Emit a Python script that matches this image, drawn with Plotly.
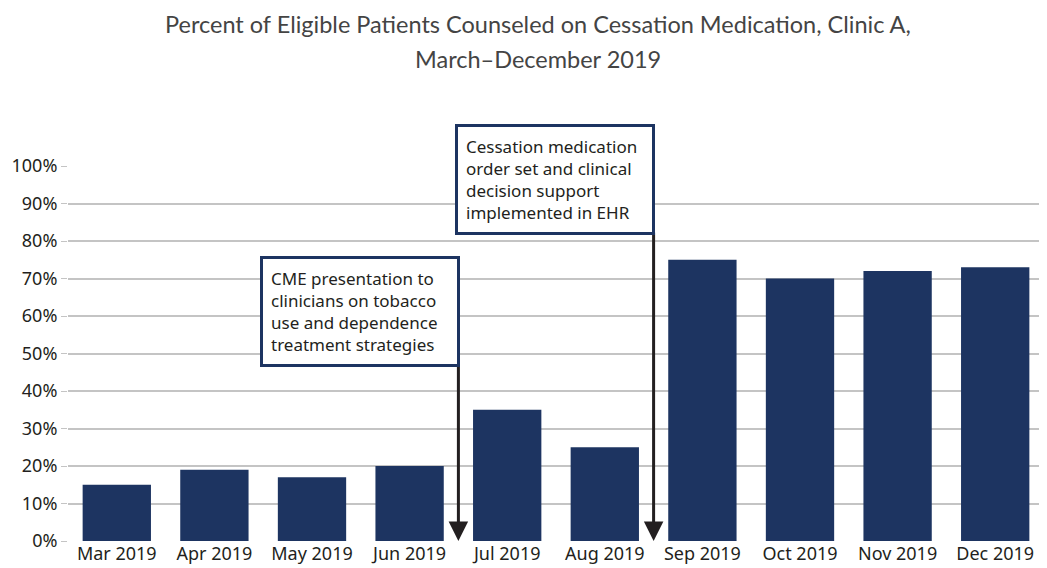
import plotly.graph_objects as go

months = ["Mar 2019", "Apr 2019", "May 2019", "Jun 2019", "Jul 2019",
          "Aug 2019", "Sep 2019", "Oct 2019", "Nov 2019", "Dec 2019"]
percent_counseled = [15, 19, 17, 20, 35, 25, 75, 70, 72, 73]
y_ticks = [0, 10, 20, 30, 40, 50, 60, 70, 80, 90, 100]
y_tick_labels = [f"{v}%" for v in y_ticks]

title_line1 = "Percent of Eligible Patients Counseled on Cessation Medication, Clinic A,"
title_line2 = "March\u2013December 2019"
note1 = "CME presentation to<br>clinicians on tobacco<br>use and dependence<br>treatment strategies"
note2 = "Cessation medication<br>order set and clinical<br>decision support<br>implemented in EHR"

NAVY = "#1d3461"
INK = "#231f20"
FONT = "Noto Sans"

# page body has an 8px margin: figure starts at screen (8, 8)
L, R, T, B = 60, 11, 158, 35
H = 568
plot_h = H - T - B


def paper_y(screen_y):
    fy = screen_y - 8
    return (H - B - fy) / plot_h


fig = go.Figure()
fig.add_trace(go.Bar(x=list(range(len(months))), y=percent_counseled,
                     marker=dict(color=NAVY, line=dict(width=0)), width=0.7))

# arrows (from box bottom down to baseline) between categories
for xpos, ytop in [(3.5, paper_y(363) * 100), (5.5, paper_y(231) * 100)]:
    fig.add_annotation(x=xpos, y=0, ax=xpos, ay=ytop, xref="x", yref="y",
                       axref="x", ayref="y", showarrow=True, arrowhead=2,
                       arrowsize=1.3, arrowwidth=3, arrowcolor=INK, text="",
                       standoff=0, startstandoff=0)

# annotation boxes, right edge anchored at the arrow x
for xpos, top, txt in [(3.5, 256, note1), (5.5, 124, note2)]:
    fig.add_annotation(x=xpos + 0.015, y=paper_y(top), xref="x", yref="paper",
                       xanchor="right", yanchor="top", text=txt, showarrow=False,
                       align="left", width=178,
                       font=dict(family=FONT, size=17, color=INK),
                       bgcolor="white", bordercolor=NAVY, borderwidth=3, borderpad=8)

# title as two lines
for txt, sy in [(title_line1, 24), (title_line2, 59)]:
    fig.add_annotation(x=(538 - 8 - L) / (1047 - L - R), y=paper_y(sy), xref="paper",
                       yref="paper", xanchor="center", yanchor="middle", text=txt,
                       showarrow=False,
                       font=dict(family="Lato", size=23.5, color="#444444"))

fig.update_layout(
    width=1047, height=H,
    margin=dict(l=L, r=R, t=T, b=B),
    paper_bgcolor="white", plot_bgcolor="white",
    showlegend=False,
    bargap=0.3,
)
fig.update_xaxes(tickmode="array", tickvals=list(range(len(months))), ticktext=months,
                 range=[-0.5, 9.5], showgrid=False, zeroline=False, showline=False,
                 ticks="", automargin=False,
                 tickfont=dict(family=FONT, size=18, color=INK))
fig.update_yaxes(tickmode="array", tickvals=y_ticks, ticktext=y_tick_labels,
                 range=[0, 100], showgrid=True, gridcolor="#c4c4c4", gridwidth=1.5,
                 zeroline=False, showline=False, ticks="outside", ticklen=6,
                 tickcolor="#c4c4c4", automargin=False,
                 tickfont=dict(family=FONT, size=18, color=INK))

fig.write_html("out.html")
